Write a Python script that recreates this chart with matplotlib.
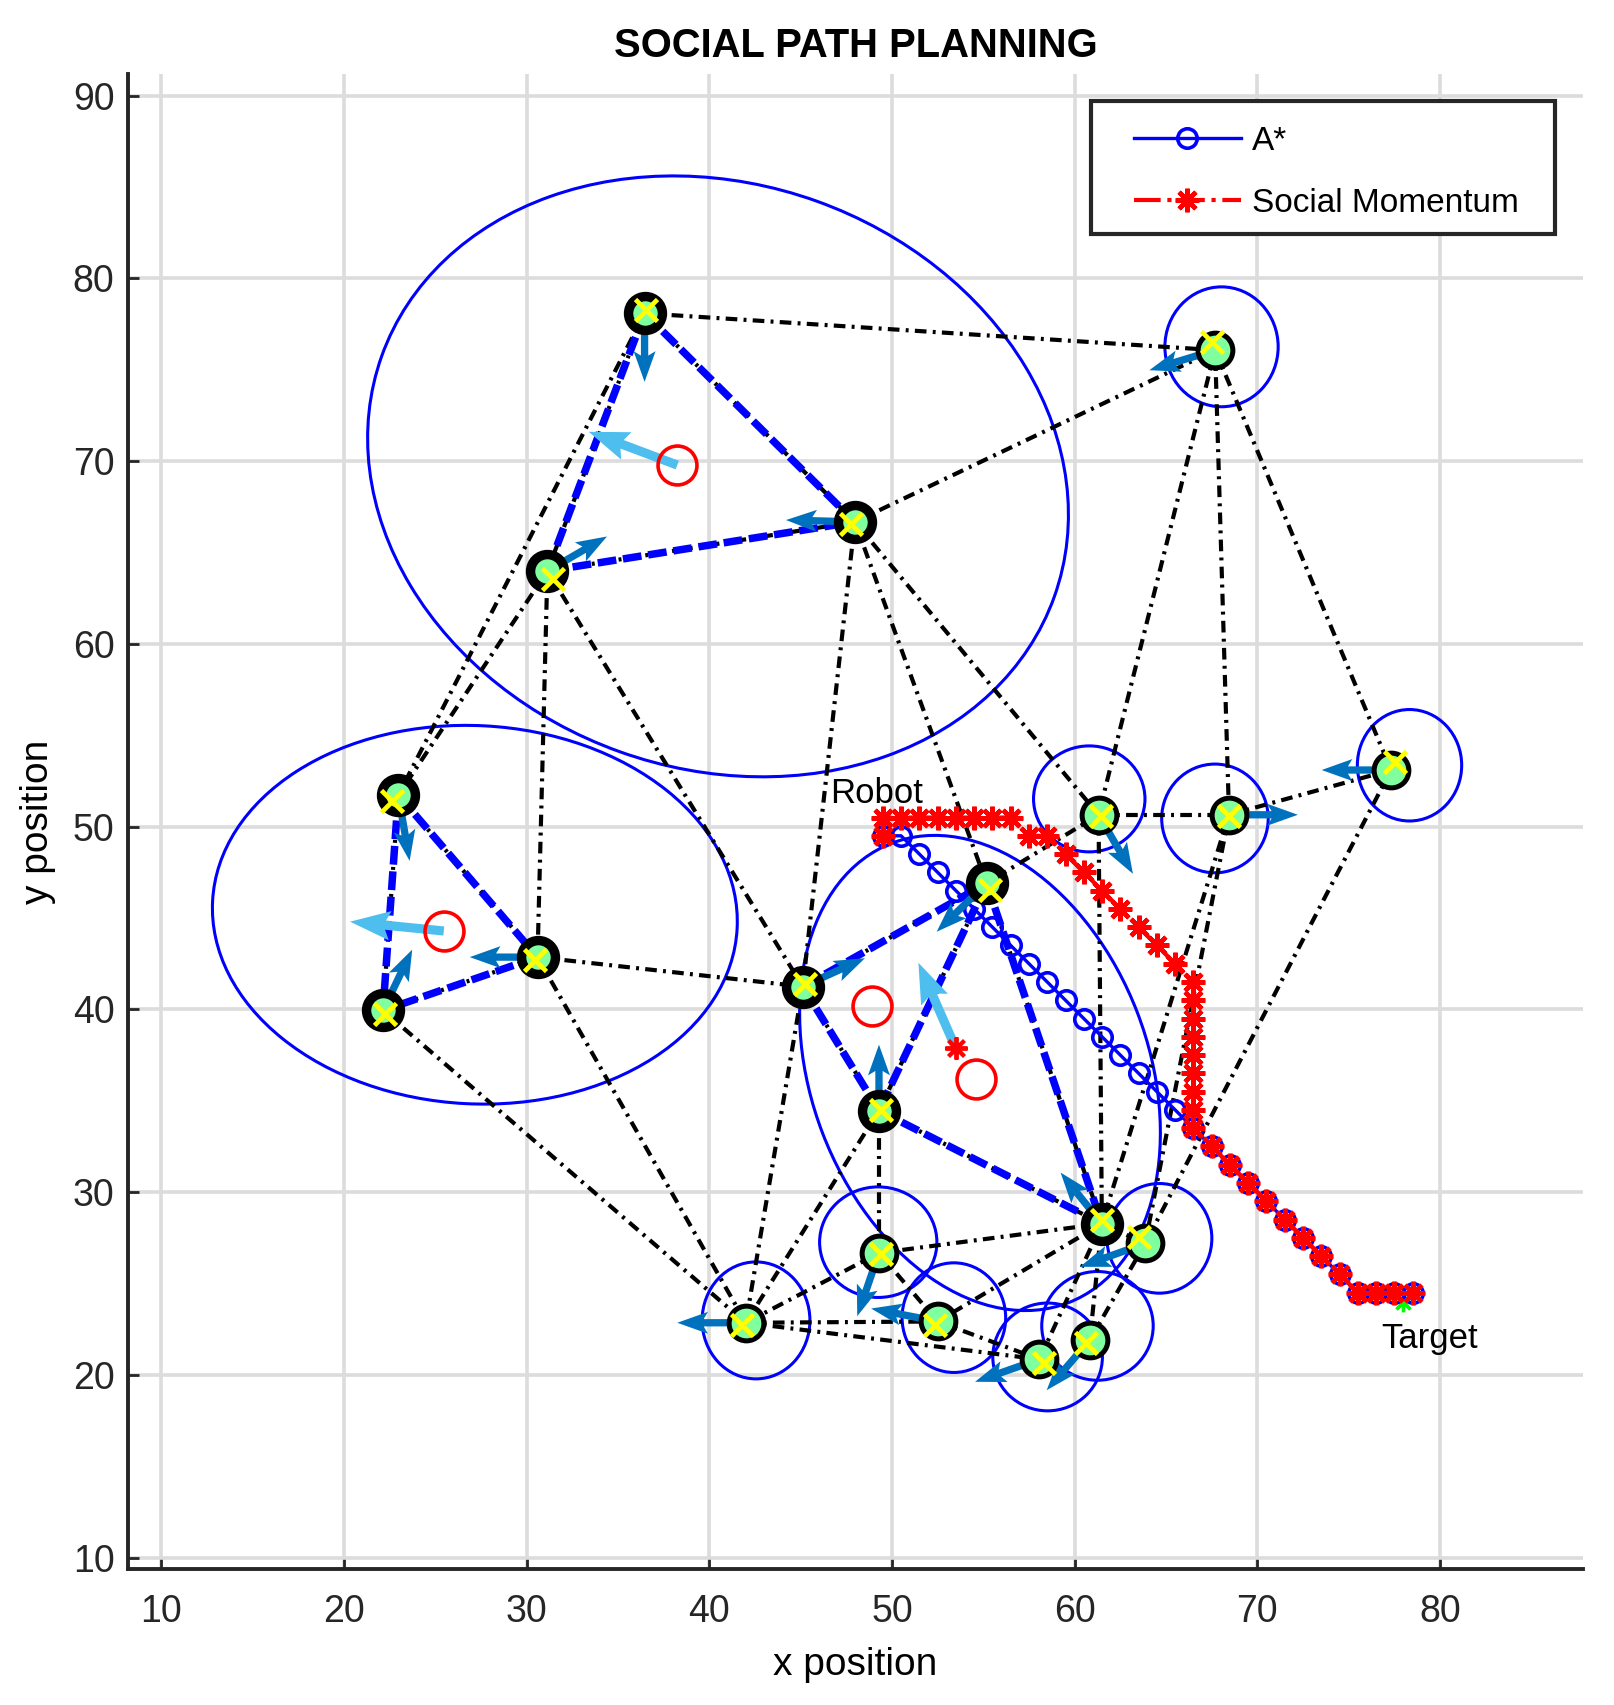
import matplotlib.pyplot as plt
from matplotlib.patches import Ellipse, Rectangle

plt.rcParams['font.family'] = ['Liberation Sans', 'DejaVu Sans']

# pedestrians: first ten walk in groups (thick ring), the rest alone
px = [36.46, 31.14, 47.97, 22.98, 30.60, 22.14, 45.12, 55.18, 49.29, 61.49,
      67.69, 61.31, 68.45, 77.32, 49.29, 42.00, 52.50, 58.07, 60.83, 63.86]
py = [78.09, 63.99, 66.68, 51.73, 42.86, 39.94, 41.25, 46.90, 34.46, 28.27,
      76.08, 50.65, 50.65, 53.10, 26.67, 22.85, 22.92, 20.85, 21.90, 27.19]
n_grouped = 10

# heading marks (yellow x)
hx = [36.55, 31.43, 47.74, 22.62, 30.48, 22.26, 45.24, 55.36, 49.40, 61.49,
      67.50, 61.43, 68.45, 77.53, 49.40, 41.79, 52.38, 58.33, 60.60, 63.51]
hy = [78.27, 63.57, 66.55, 51.43, 42.68, 39.76, 41.37, 46.55, 34.52, 28.45,
      76.54, 50.60, 50.60, 53.55, 26.61, 22.74, 22.74, 20.65, 21.73, 27.56]

# velocity of each pedestrian
vu = [0.00, 3.26, -3.77, 0.62, -3.71, 1.60, 3.40, -2.73, 0.00, -2.26,
      -3.60, 1.88, 3.77, -3.80, -1.19, -3.75, -3.64, -3.52, -2.36, -3.57]
vv = [-3.75, 1.89, 0.10, -3.60, 0.00, 3.33, 1.55, -2.65, 3.61, 2.80,
      -1.10, -3.23, 0.00, 0.00, -3.46, 0.00, 0.71, -1.23, -2.74, -1.28]

# interaction graph (dash-dot)
edges = [(0, 10), (0, 2), (0, 1), (0, 3),
         (1, 2), (1, 3), (1, 4), (1, 6),
         (2, 10), (2, 11), (2, 7), (2, 6),
         (10, 11), (10, 12), (10, 13),
         (11, 12), (11, 7), (11, 9),
         (12, 13), (12, 9), (12, 19), (13, 19),
         (3, 4), (3, 5), (4, 5), (4, 6), (4, 15), (5, 15),
         (6, 7), (6, 8), (6, 15), (7, 8), (7, 9),
         (8, 9), (8, 14), (8, 15),
         (9, 14), (9, 16), (9, 17), (9, 18), (9, 19),
         (14, 15), (14, 16), (15, 16), (15, 17), (16, 17),
         (18, 19)]
# links inside a group (blue dashed)
group_edges = [(0, 1), (0, 2), (1, 2), (3, 4), (3, 5), (4, 5),
               (6, 7), (6, 8), (7, 8), (7, 9), (8, 9)]

# group space
g_cx = [40.48, 27.17, 54.82]
g_cy = [69.17, 45.18, 36.52]
g_w = [39.1, 28.75, 26.94]
g_h = [32.0, 20.7, 18.45]
g_ang = [-19.7, -3.0, -69.0]

# personal space of lone walkers
s_cx = [68.04, 60.80, 67.68, 78.33, 49.25, 42.56, 53.39, 58.52, 61.25, 64.64]
s_cy = [76.26, 51.52, 50.45, 53.36, 27.26, 22.98, 23.13, 20.98, 22.68, 27.47]
s_w = [6.20, 6.10, 5.83, 5.71, 6.42, 5.90, 5.67, 6.00, 6.10, 5.74]
s_h = [6.56, 5.80, 5.95, 6.10, 6.05, 6.40, 6.00, 5.90, 5.95, 6.00]

# group centres and group motion
c_x = [38.25, 25.47, 48.93, 54.58]
c_y = [69.79, 44.29, 40.18, 36.19]
ga_x = [38.25, 25.47, 53.50]
ga_y = [69.79, 44.29, 37.86]
ga_u = [-4.85, -5.13, -2.05]
ga_v = [1.82, 0.51, 4.69]

# planned paths
astar_x = [49.5, 50.5, 51.5, 52.5, 53.5, 54.5, 55.5, 56.5, 57.5, 58.5, 59.5,
           60.5, 61.5, 62.5, 63.5, 64.5, 65.5, 66.5, 67.5, 68.5, 69.5, 70.5,
           71.5, 72.5, 73.5, 74.5, 75.5, 76.5, 77.5, 78.5]
astar_y = [49.5, 49.5, 48.5, 47.5, 46.5, 45.5, 44.5, 43.5, 42.5, 41.5, 40.5,
           39.5, 38.5, 37.5, 36.5, 35.5, 34.5, 33.5, 32.5, 31.5, 30.5, 29.5,
           28.5, 27.5, 26.5, 25.5, 24.5, 24.5, 24.5, 24.5]
sm_x = [49.5, 49.5, 50.5, 51.5, 52.5, 53.5, 54.5, 55.5, 56.5, 57.5, 58.5,
        59.5, 60.5, 61.5, 62.5, 63.5, 64.5, 65.5, 66.5, 66.5, 66.5, 66.5,
        66.5, 66.5, 66.5, 66.5, 66.5, 67.5, 68.5, 69.5, 70.5, 71.5, 72.5,
        73.5, 74.5, 75.5, 76.5, 77.5, 78.5]
sm_y = [49.5, 50.5, 50.5, 50.5, 50.5, 50.5, 50.5, 50.5, 50.5, 49.5, 49.5,
        48.5, 47.5, 46.5, 45.5, 44.5, 43.5, 42.5, 41.5, 40.5, 39.5, 38.5,
        37.5, 36.5, 35.5, 34.5, 33.5, 32.5, 31.5, 30.5, 29.5, 28.5, 27.5,
        26.5, 25.5, 24.5, 24.5, 24.5, 24.5]
robot_x, robot_y = 46.64, 51.8
target_x, target_y = 78.0, 24.0

ast = (8, 2, 0)  # asterisk marker

fig = plt.figure(figsize=(8.07, 8.525), dpi=200)
ax = fig.add_axes([0.0796, 0.0795, 0.9009, 0.8771])

for i in range(len(g_cx)):
    ax.add_patch(Ellipse((g_cx[i], g_cy[i]), g_w[i], g_h[i], angle=g_ang[i],
                         fill=False, ec='blue', lw=1.1, zorder=2))
for i in range(len(s_cx)):
    ax.add_patch(Ellipse((s_cx[i], s_cy[i]), s_w[i], s_h[i],
                         fill=False, ec='blue', lw=1.1, zorder=2))

for i, j in edges:
    ax.plot([px[i], px[j]], [py[i], py[j]], color='k', lw=1.5,
            dashes=(2.8, 1.5, 0.7, 1.5), zorder=2.5)
for i, j in group_edges:
    ax.plot([px[i], px[j]], [py[i], py[j]], color='blue', lw=2.7,
            dashes=(2.5, 0.9), zorder=3)

ax.plot(target_x, target_y, marker=ast, color='#00FF00', ms=7, mew=1.2,
        ls='none', zorder=3.5)
ax.plot(astar_x, astar_y, '-o', color='blue', lw=1.2, ms=7, mfc='none',
        mew=1.3, label='A*', zorder=4)
ax.plot(sm_x, sm_y, color='red', ls='-.', lw=1.5, marker=ast, ms=8.5,
        mew=1.6, label='Social Momentum', zorder=4.5)

ax.quiver(px, py, vu, vv, angles='xy', scale_units='xy', scale=1,
          units='xy', width=0.4, headwidth=3.0, headlength=4.2,
          headaxislength=3.6, color='#0072BD', zorder=5)
ax.quiver(ga_x, ga_y, ga_u, ga_v, angles='xy', scale_units='xy', scale=1,
          units='xy', width=0.5, headwidth=3.2, headlength=4.4,
          headaxislength=3.9, color='#4DBEEE', zorder=5)

ax.plot(px[:n_grouped], py[:n_grouped], 'o', ms=12.2, mfc='#80FF9F',
        mec='k', mew=3.4, ls='none', zorder=6)
ax.plot(px[n_grouped:], py[n_grouped:], 'o', ms=12.5, mfc='#80FF9F',
        mec='k', mew=1.8, ls='none', zorder=6)
ax.plot(hx, hy, 'x', color='#FFFF00', ms=8, mew=1.7, ls='none', zorder=7)

ax.plot(c_x, c_y, 'o', ms=14, mfc='none', mec='red', mew=1.3, ls='none',
        zorder=7)
ax.plot(ga_x[2], ga_y[2], marker=ast, color='red', ms=8, mew=1.4, zorder=7)

ax.text(robot_x, robot_y, 'Robot', fontsize=12.5, va='center', zorder=8)
ax.text(76.79, 22.0, 'Target', fontsize=12.5, va='center', zorder=8)

ax.set_xlim(8.21, 87.8)
ax.set_ylim(9.35, 91.19)
ax.set_xticks([10, 20, 30, 40, 50, 60, 70, 80])
ax.set_yticks([10, 20, 30, 40, 50, 60, 70, 80, 90])
ax.grid(True, color='#DCDCDC', lw=1.3)
ax.set_axisbelow(True)
for s in ['top', 'right']:
    ax.spines[s].set_visible(False)
for s in ['left', 'bottom']:
    ax.spines[s].set_linewidth(1.4)
    ax.spines[s].set_color('#262626')
ax.tick_params(direction='in', length=4, width=1, colors='#262626',
               labelsize=13.5)
ax.tick_params(axis='x', pad=9)
ax.tick_params(axis='y', pad=5)
ax.set_xlabel('x position', fontsize=14, labelpad=6)
ax.set_ylabel('y position', fontsize=14, labelpad=6)
ax.set_title('SOCIAL PATH PLANNING', fontsize=14.4, fontweight='bold', pad=6)

# legend box
ax.add_patch(Rectangle((0.662, 0.893), 0.319, 0.089, transform=ax.transAxes,
                       fc='white', ec='#262626', lw=1.5, zorder=10))
ax.legend(loc='upper left', bbox_to_anchor=(0.6915, 0.9655), frameon=False,
          fontsize=12, handlelength=3.2, handletextpad=0.35, borderpad=0,
          borderaxespad=0, labelspacing=0.93).set_zorder(11)

plt.savefig('out.png', dpi=200)
